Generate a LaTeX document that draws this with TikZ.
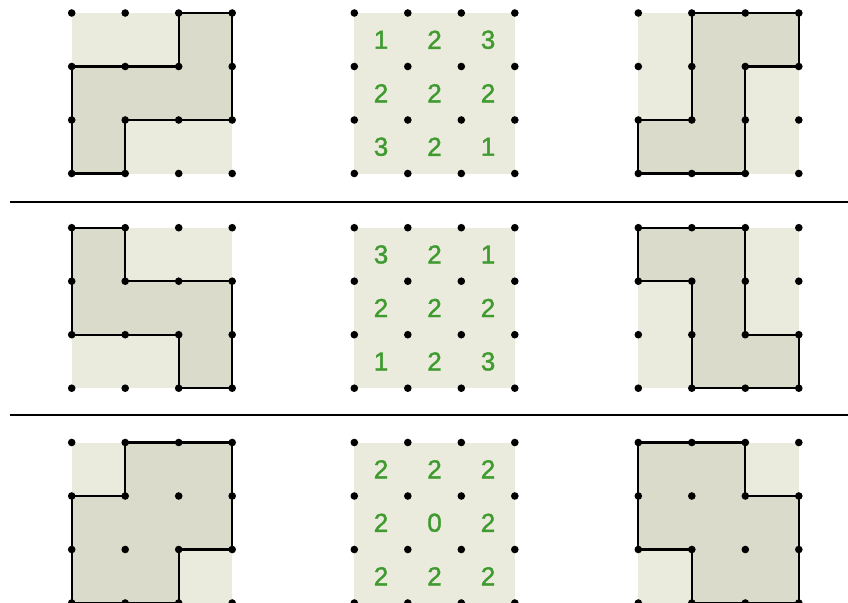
\documentclass[tikz,border=0pt]{standalone}
\usepackage{fontspec}
\setmainfont{Liberation Sans}
\newfontfamily\numfont[FakeBold=1.5]{Liberation Sans}
\definecolor{lightf}{HTML}{EAEBDC}
\definecolor{darkf}{HTML}{DADBCB}
\definecolor{numg}{HTML}{3F9B30}
\tikzset{
  cellbg/.style={fill=lightf},
  piece/.style={fill=darkf, draw=black, line width=2.2pt},
  gdot/.style={fill=black},
  num/.style={text=numg, font=\numfont\fontsize{26}{30}\selectfont, inner sep=0pt, anchor=center},
  sepline/.style={draw=black, line width=2pt}
}
\newcommand\mygrid[3]{%
  \begin{scope}[shift={(#1,#2)}, x=53.5pt, y=-53.5pt]
    \fill[cellbg] (0,0) rectangle (3,3);
    \path[piece] #3 -- cycle;
    \foreach \i in {0,...,3} {\foreach \j in {0,...,3} {\fill[gdot] (\i,\j) circle[radius=3.8pt];}}
  \end{scope}}
\newcommand\numgrid[3]{%
  \begin{scope}[shift={(#1,#2)}, x=53.5pt, y=-53.5pt]
    \fill[cellbg] (0,0) rectangle (3,3);
    #3
    \foreach \i in {0,...,3} {\foreach \j in {0,...,3} {\fill[gdot] (\i,\j) circle[radius=3.8pt];}}
  \end{scope}}
\begin{document}
\begin{tikzpicture}[x=1pt, y=-1pt]
\useasboundingbox (0,0) rectangle (848,602);
% separators
\coordinate (s1a) at (10,201.5); \coordinate (s1b) at (848,201.5);
\coordinate (s2a) at (10,414.5); \coordinate (s2b) at (848,414.5);
\draw[sepline] (s1a) -- (s1b);
\draw[sepline] (s2a) -- (s2b);
% row 1
\mygrid{71.7}{13}{(2,0)--(3,0)--(3,2)--(1,2)--(1,3)--(0,3)--(0,1)--(2,1)}
\mygrid{638.3}{13}{(1,0)--(3,0)--(3,1)--(2,1)--(2,3)--(0,3)--(0,2)--(1,2)}
\numgrid{354.3}{13}{%
  \node[num] (a11) at (0.5,0.5) {1}; \node[num] (a12) at (1.5,0.5) {2}; \node[num] (a13) at (2.5,0.5) {3};
  \node[num] (a21) at (0.5,1.5) {2}; \node[num] (a22) at (1.5,1.5) {2}; \node[num] (a23) at (2.5,1.5) {2};
  \node[num] (a31) at (0.5,2.5) {3}; \node[num] (a32) at (1.5,2.5) {2}; \node[num] (a33) at (2.5,2.5) {1};}
% row 2
\mygrid{71.7}{227.7}{(0,0)--(1,0)--(1,1)--(3,1)--(3,3)--(2,3)--(2,2)--(0,2)}
\mygrid{638.3}{227.7}{(0,0)--(2,0)--(2,2)--(3,2)--(3,3)--(1,3)--(1,1)--(0,1)}
\numgrid{354.3}{227.7}{%
  \node[num] (b11) at (0.5,0.5) {3}; \node[num] (b12) at (1.5,0.5) {2}; \node[num] (b13) at (2.5,0.5) {1};
  \node[num] (b21) at (0.5,1.5) {2}; \node[num] (b22) at (1.5,1.5) {2}; \node[num] (b23) at (2.5,1.5) {2};
  \node[num] (b31) at (0.5,2.5) {1}; \node[num] (b32) at (1.5,2.5) {2}; \node[num] (b33) at (2.5,2.5) {3};}
% row 3
\mygrid{71.7}{442.5}{(1,0)--(3,0)--(3,2)--(2,2)--(2,3)--(0,3)--(0,1)--(1,1)}
\mygrid{638.3}{442.5}{(0,0)--(2,0)--(2,1)--(3,1)--(3,3)--(1,3)--(1,2)--(0,2)}
\numgrid{354.3}{442.5}{%
  \node[num] (c11) at (0.5,0.5) {2}; \node[num] (c12) at (1.5,0.5) {2}; \node[num] (c13) at (2.5,0.5) {2};
  \node[num] (c21) at (0.5,1.5) {2}; \node[num] (c22) at (1.5,1.5) {0}; \node[num] (c23) at (2.5,1.5) {2};
  \node[num] (c31) at (0.5,2.5) {2}; \node[num] (c32) at (1.5,2.5) {2}; \node[num] (c33) at (2.5,2.5) {2};}
\end{tikzpicture}
\end{document}
